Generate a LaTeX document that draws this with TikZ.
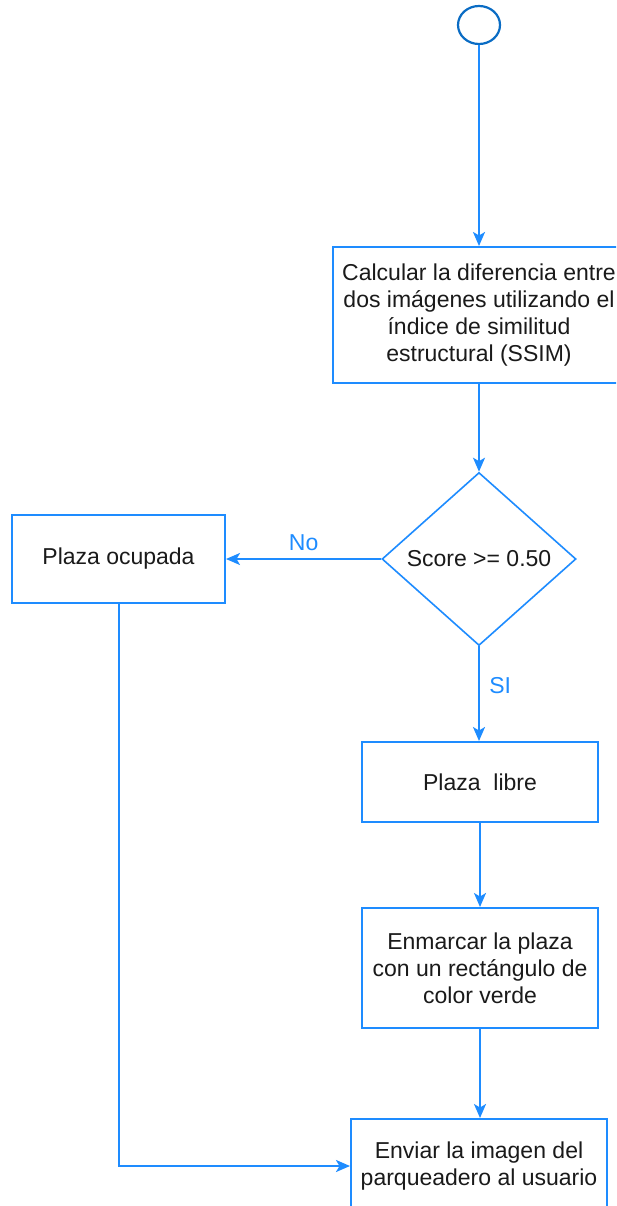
\documentclass[tikz,border=0pt]{standalone}
\usepackage{fontspec}
\setmainfont{Liberation Sans}
\usetikzlibrary{shapes.geometric,arrows.meta}
\definecolor{lineblue}{HTML}{1E8CFF}
\definecolor{circblue}{HTML}{0A6CC4}
\definecolor{txt}{HTML}{1A1A1A}
\begin{document}
\begin{tikzpicture}[x=1pt,y=1pt,
  every node/.style={font=\fontsize{23}{26.8}\selectfont, text=txt},
  procbox/.style={draw=lineblue, line width=2pt, rectangle, inner sep=0pt, align=center, fill=white},
  decbox/.style={draw=lineblue, line width=1.6pt, diamond, inner sep=0pt, fill=white},
  conn/.style={draw=lineblue, line width=2pt, -{Stealth[length=14pt,width=12pt,inset=3.5pt]}},
  lbl/.style={text=lineblue}]
\useasboundingbox (0,0) rectangle (616,-1206);
\clip (0,0) rectangle (616,-1206);
\fill[white] (0,0) rectangle (616,-1206);
\node[draw=circblue, line width=2.2pt, ellipse, minimum width=42pt, minimum height=38pt, inner sep=0pt] (start) at (479,-25) {};
\node[procbox, minimum width=292pt, minimum height=136pt] (calc) at (479,-315) {Calcular la diferencia entre\\dos imágenes utilizando el\\índice de similitud\\estructural (SSIM)};
\node[decbox, minimum width=194pt, minimum height=173pt] (dec) at (479,-559) {Score >= 0.50};
\node[procbox, minimum width=213pt, minimum height=88pt] (occ) at (118.5,-559) {Plaza ocupada};
\node[procbox, minimum width=236pt, minimum height=80pt] (free) at (480,-782) {Plaza~ libre};
\node[procbox, minimum width=236pt, minimum height=120pt] (frame) at (480,-968) {Enmarcar la plaza\\con un rectángulo de\\color verde};
\node[procbox, minimum width=256pt, minimum height=94pt] (send) at (479,-1166) {Enviar la imagen del\\parqueadero al usuario};
\draw[conn] (start.south) -- (calc.north);
\draw[conn] (calc.south) -- (dec.north);
\draw[conn] (dec.west) -- node[lbl, above=4pt] {No} (occ.east);
\draw[conn] (dec.south) -- node[lbl, right=6pt, pos=0.42] {SI} (dec.south |- free.north);
\draw[conn] (free.south) -- (frame.north);
\draw[conn] (frame.south) -- (frame.south |- send.north);
\draw[conn] (occ.south) -- (occ.south |- send.west) -- (send.west);
\end{tikzpicture}
\end{document}
